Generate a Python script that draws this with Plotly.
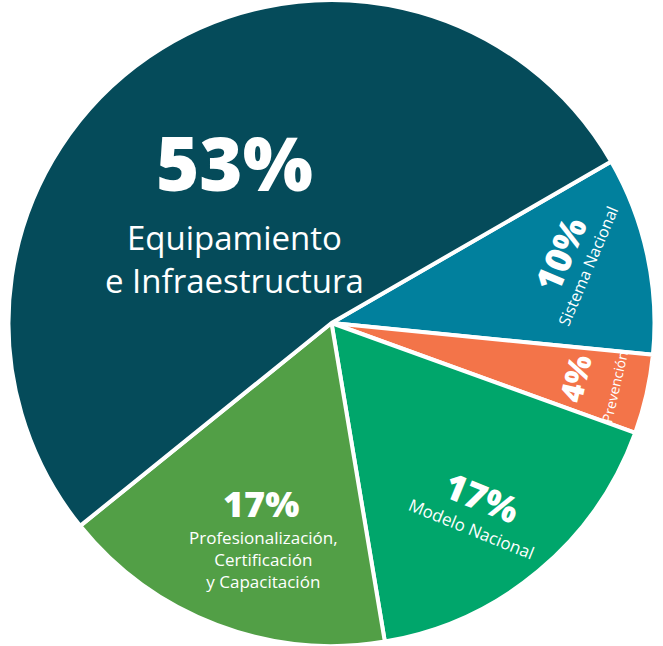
import plotly.graph_objects as go

W, H = 663, 646

# ---- data ----
labels = ["Sistema Nacional", "Prevención", "Modelo Nacional",
          "Profesionalización, Certificación y Capacitación",
          "Equipamiento e Infraestructura"]
values = [10, 4, 17, 17, 53]
pct_text = ["10%", "4%", "17%", "17%", "53%"]
name_text = ["Sistema Nacional", "Prevención", "Modelo Nacional",
             "Profesionalización,<br>Certificación<br>y Capacitación",
             "Equipamiento<br>e Infraestructura"]
colors = ["#01809D", "#F37449", "#00A66B", "#529F46", "#054B5A"]

fig = go.Figure(go.Pie(
    labels=labels, values=values, sort=False, direction="clockwise",
    rotation=60, textinfo="none", hoverinfo="label+percent",
    marker=dict(colors=colors, line=dict(color="white", width=4)),
    showlegend=False,
))

FONT = "Open Sans"

# label layout: (pct x, pct y, pct size, name x, name y, name size, angle)
label_pos = [
    (560, 254, 36, 588, 266, 16, -67),
    (575, 378, 31, 614, 387, 14, -77),
    (482, 497, 36, 471, 528, 17, 22),
    (261, 503, 36, 263, 559, 17, 0),
    (234, 162, 74, 234, 259, 33, 0),
]

annotations = []
for i in range(len(values)):
    px, py, ps, nx, ny, ns, ang = label_pos[i]
    annotations.append(dict(
        x=px / W, y=1 - py / H, xref="paper", yref="paper",
        text=pct_text[i], showarrow=False, textangle=ang,
        xanchor="center", yanchor="middle",
        font=dict(family=FONT, size=ps, color="white", weight=800)))
    annotations.append(dict(
        x=nx / W, y=1 - ny / H, xref="paper", yref="paper",
        text=name_text[i], showarrow=False, textangle=ang,
        xanchor="center", yanchor="middle", align="center",
        font=dict(family=FONT, size=ns, color="white")))

fig.update_layout(
    width=W, height=H, margin=dict(l=0, r=0, t=0, b=0),
    paper_bgcolor="white", plot_bgcolor="white",
    annotations=annotations,
)

fig.write_html("out.html",
               config={"displayModeBar": False},
               post_script="document.body.style.margin='0';")
